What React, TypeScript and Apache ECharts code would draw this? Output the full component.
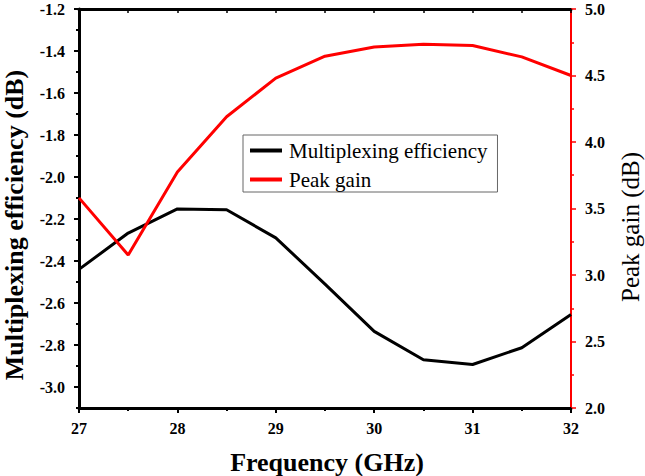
import React, { useEffect, useRef } from "react";
import * as echarts from "echarts";

const frequency = [27, 27.5, 28, 28.5, 29, 29.5, 30, 30.5, 31, 31.5, 32];
const efficiency = [-2.44, -2.267, -2.152, -2.156, -2.29, -2.51, -2.735, -2.87, -2.893, -2.813, -2.655];
const peakGain = [3.58, 3.15, 3.775, 4.19, 4.48, 4.645, 4.715, 4.735, 4.725, 4.64, 4.5];
const leftMajor = [-3.0, -2.8, -2.6, -2.4, -2.2, -2.0, -1.8, -1.6, -1.4, -1.2];
const leftMinor = [-3.1, -2.9, -2.7, -2.5, -2.3, -2.1, -1.9, -1.7, -1.5, -1.3];

const FONT = "Liberation Serif";

export default function App() {
  const ref = useRef<HTMLDivElement>(null);
  useEffect(() => {
    if (!ref.current) return;
    const chart = echarts.init(ref.current, undefined, { renderer: "svg" });
    const labelStyle = { fontFamily: FONT, fontWeight: "bold" as const, fontSize: 16, color: "#000" };
    chart.setOption({
      animation: false,
      backgroundColor: "#fff",
      textStyle: { fontFamily: FONT },
      grid: { left: 79, right: 74, top: 9, bottom: 68, containLabel: false },
      legend: {
        left: 243,
        top: 135,
        orient: "vertical",
        borderColor: "#666",
        borderWidth: 1,
        padding: [5, 10, 2, 7],
        itemGap: 8,
        itemWidth: 32,
        itemHeight: 4,
        icon: "rect",
        textStyle: { fontFamily: FONT, fontSize: 21, fontWeight: "normal", color: "#000", padding: [0, 0, 0, 2] },
        data: ["Multiplexing efficiency", "Peak gain"],
      },
      xAxis: [
        {
          type: "value",
          position: "bottom",
          min: 27,
          max: 32,
          interval: 1,
          axisLine: { show: true, onZero: false, lineStyle: { color: "#000", width: 3 } },
          axisTick: { show: true, inside: false, length: 5, lineStyle: { color: "#000", width: 2 } },
          minorTick: { show: true, splitNumber: 2, length: 3, lineStyle: { color: "#000", width: 2 } },
          axisLabel: { ...labelStyle, margin: 12 },
          splitLine: { show: false },
        },
        {
          type: "value",
          position: "top",
          min: 27,
          max: 32,
          interval: 0.5,
          axisLine: { show: true, onZero: false, lineStyle: { color: "#000", width: 3 } },
          axisTick: { show: true, inside: true, length: 4, lineStyle: { color: "#000", width: 1.5 } },
          axisLabel: { show: false },
          splitLine: { show: false },
        },
      ],
      yAxis: [
        {
          type: "value",
          position: "left",
          min: -3.1,
          max: -1.2,
          axisLine: { show: true, onZero: false, lineStyle: { color: "#000", width: 3 } },
          axisTick: { show: true, inside: false, length: 5, customValues: leftMajor, lineStyle: { color: "#000", width: 2 } },
          axisLabel: { ...labelStyle, margin: 14, customValues: leftMajor, formatter: (v: number) => v.toFixed(1) },
          splitLine: { show: false },
        },
        {
          type: "value",
          position: "right",
          min: 2,
          max: 5,
          interval: 0.5,
          axisLine: { show: true, onZero: false, lineStyle: { color: "#ff0000", width: 2 } },
          axisTick: { show: true, inside: false, length: 5, lineStyle: { color: "#ff0000", width: 1.5 } },
          minorTick: { show: true, splitNumber: 2, length: 3, lineStyle: { color: "#ff0000", width: 1.5 } },
          axisLabel: { ...labelStyle, margin: 14, formatter: (v: number) => v.toFixed(1) },
          splitLine: { show: false },
        },
        {
          type: "value",
          position: "left",
          min: -3.1,
          max: -1.2,
          axisLine: { show: false },
          axisTick: { show: true, inside: false, length: 3, customValues: leftMinor, lineStyle: { color: "#000", width: 2 } },
          axisLabel: { show: false },
          splitLine: { show: false },
        },
      ],
      graphic: [
        {
          type: "text",
          x: 14,
          y: 225,
          rotation: Math.PI / 2,
          style: {
            text: "Multiplexing efficiency (dB)",
            font: `bold 26px ${FONT}`,
            fill: "#000",
            align: "center",
            verticalAlign: "middle",
          },
        },
        {
          type: "text",
          x: 327,
          y: 462,
          style: {
            text: "Frequency (GHz)",
            font: `bold 26px ${FONT}`,
            fill: "#000",
            align: "center",
            verticalAlign: "middle",
          },
        },
        {
          type: "text",
          x: 630,
          y: 227,
          rotation: Math.PI / 2,
          style: {
            text: "Peak gain (dB)",
            font: `25px ${FONT}`,
            fill: "#000",
            align: "center",
            verticalAlign: "middle",
          },
        },
      ],
      series: [
        {
          name: "Multiplexing efficiency",
          type: "line",
          xAxisIndex: 0,
          yAxisIndex: 0,
          data: frequency.map((f, i) => [f, efficiency[i]]),
          showSymbol: false,
          symbol: "none",
          lineStyle: { color: "#000", width: 3 },
          itemStyle: { color: "#000" },
        },
        {
          name: "Peak gain",
          type: "line",
          xAxisIndex: 0,
          yAxisIndex: 1,
          data: frequency.map((f, i) => [f, peakGain[i]]),
          showSymbol: false,
          symbol: "none",
          lineStyle: { color: "#ff0000", width: 3 },
          itemStyle: { color: "#ff0000" },
        },
      ],
    });
    return () => chart.dispose();
  }, []);
  return <div ref={ref} style={{ position: "absolute", left: 0, top: 0, width: 645, height: 476 }} />;
}
